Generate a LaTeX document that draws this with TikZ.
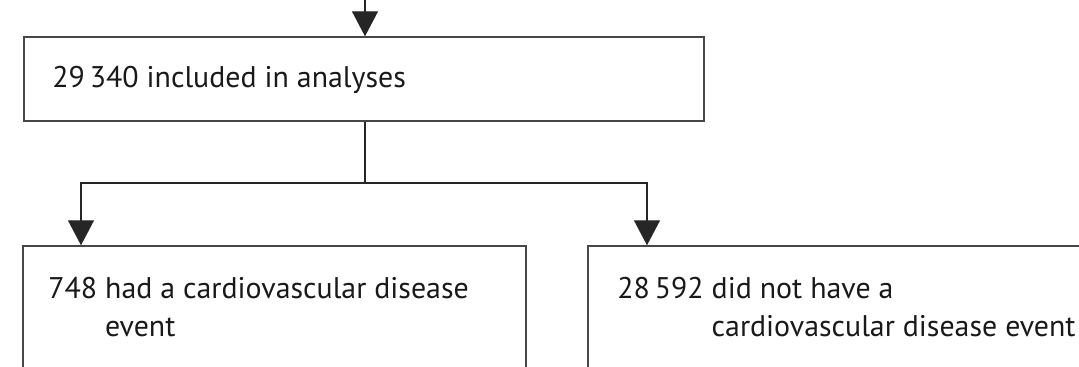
\documentclass[tikz,border=0pt]{standalone}
\usepackage{fontspec}
\setmainfont{PT Sans}
\usetikzlibrary{arrows.meta,positioning}

\tikzset{
  caja/.style={draw=black!72,line width=0.8pt,inner sep=0pt},
  flujo/.style={draw=black!85,line width=0.75pt},
  texto/.style={inner sep=0pt,text=black!90,font=\fontsize{17}{22}\selectfont},
}

\begin{document}
\begin{tikzpicture}[>={Triangle[width=5.2mm,length=5mm]}]
  \useasboundingbox (0,0) rectangle (21.58,7.32);
  % ===================== cajas =====================
  % incluidos (arriba)
  \node[caja,minimum width=13.6cm,minimum height=1.68cm] (incl) at (7.28,5.74) {};
  \node[texto,anchor=west] (incltxt) at (1.04,5.73) {29\,340 included in analyses};
  % con evento (abajo izq.)
  \node[caja,minimum width=10.06cm,minimum height=2.8cm] (cvd) at (5.49,1.0) {};
  \node[texto,anchor=base west] (cvdtxt) at (0.96,1.36)
    {\begin{tabular}[t]{@{}l@{\ }l@{}}748 & had a cardiovascular disease\\ & event\end{tabular}};
  % sin evento (abajo der.)
  \node[caja,minimum width=10.74cm,minimum height=2.8cm] (nocvd) at (17.13,1.0) {};
  \node[texto,anchor=base west] (nocvdtxt) at (12.34,1.36)
    {\begin{tabular}[t]{@{}l@{\ }l@{}}28\,592 & did not have a\\ & cardiovascular disease event\end{tabular}};
  % ===================== flechas =====================
  \coordinate (entrada) at (7.30,7.4);
  \coordinate (rama) at (7.30,3.66);
  \coordinate (izq) at (1.62,3.66);
  \coordinate (der) at (12.94,3.66);
  \draw[flujo,->] (entrada) -- (entrada |- incl.north);
  \draw[flujo] (entrada |- incl.south) -- (rama);
  \draw[flujo,->] (rama) -| (izq |- cvd.north);
  \draw[flujo,->] (rama) -| (der |- nocvd.north);
\end{tikzpicture}
\end{document}
